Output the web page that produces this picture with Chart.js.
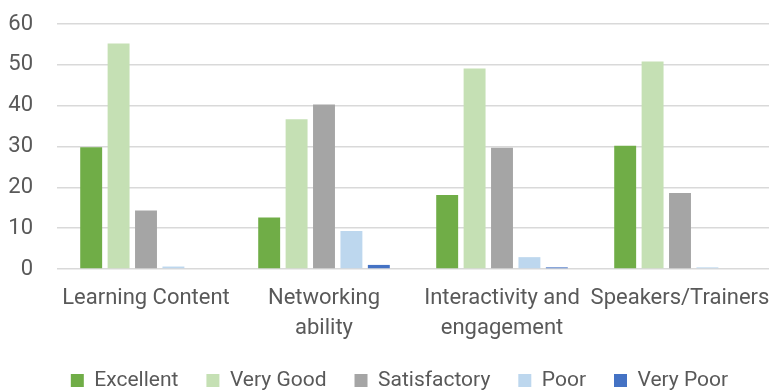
<!DOCTYPE html>
<html>
<head>
<meta charset="utf-8">
<script src="https://cdn.jsdelivr.net/npm/chart.js@4.4.1/dist/chart.umd.min.js"></script>
<style>
  html, body { margin: 0; padding: 0; background: #fff; }
  #wrap { width: 769px; height: 390px; }
</style>
</head>
<body>
<div id="wrap"><canvas id="ratingChart"></canvas></div>
<script>
// Categorías (etiquetas con salto de línea como en el gráfico original)
const categories = ['Learning Content', ['Networking', 'ability'], ['Interactivity and', 'engagement'], 'Speakers/Trainers'];

// Porcentaje de respuestas por valoración
const excellent    = [29.8, 12.6, 18.1, 30.2];
const veryGood     = [55.2, 36.7, 49.1, 50.8];
const satisfactory = [14.3, 40.3, 29.7, 18.6];
const poor         = [0.6, 9.3, 2.9, 0.4];
const veryPoor     = [0, 1.0, 0.4, 0];

const yTicks = [0, 10, 20, 30, 40, 50, 60];

const textColor = '#595959';
const gridColor = '#d9d9d9';

// Ajuste fino de la posición de la leyenda (Chart.js la centra en todo el ancho)
const legendShift = {
    id: 'legendShift',
    afterLayout(chart) {
        const lg = chart.legend;
        if (!lg) return;
        lg.left += 15; lg.right += 15;
        lg.top -= 7; lg.bottom -= 7;
    }
};

const ctx = document.getElementById('ratingChart').getContext('2d');
new Chart(ctx, {
    type: 'bar',
    data: {
        labels: categories,
        datasets: [
            { label: 'Excellent',    data: excellent,    backgroundColor: '#70ad47' },
            { label: 'Very Good',    data: veryGood,     backgroundColor: '#c5e0b4' },
            { label: 'Satisfactory', data: satisfactory, backgroundColor: '#a5a5a5' },
            { label: 'Poor',         data: poor,         backgroundColor: '#bdd7ee' },
            { label: 'Very Poor',    data: veryPoor,     backgroundColor: '#4472c4' }
        ]
    },
    options: {
        responsive: true,
        maintainAspectRatio: false,
        animation: false,
        datasets: {
            bar: { barPercentage: 0.8, categoryPercentage: 0.77 }
        },
        layout: { padding: { top: 24, right: 0, bottom: -18, left: 0 } },
        font: { family: 'Roboto', size: 22 },
        scales: {
            x: {
                grid: { display: false, drawTicks: false },
                border: { display: false },
                ticks: {
                    color: textColor,
                    font: { family: 'Roboto', size: 22, lineHeight: 1.35 },
                    padding: 15,
                    maxRotation: 0,
                    autoSkip: false
                },
                afterFit(scale) {
                    scale.height = 80;
                    scale.paddingLeft = 0;
                    scale.paddingRight = 0;
                }
            },
            y: {
                min: yTicks[0],
                max: yTicks[yTicks.length - 1],
                grid: { color: gridColor, lineWidth: 1.5, drawTicks: false },
                border: { display: false },
                afterBuildTicks(scale) { scale.ticks = yTicks.map(v => ({ value: v })); },
                ticks: {
                    color: textColor,
                    font: { family: 'Roboto', size: 22 },
                    padding: 24
                },
                afterFit(scale) {
                    scale.width = 57;
                    scale.paddingTop = 0;
                    scale.paddingBottom = 0;
                }
            }
        },
        plugins: {
            legend: {
                position: 'bottom',
                labels: {
                    color: textColor,
                    font: { family: 'Roboto', size: 21 },
                    boxWidth: 13,
                    boxHeight: 13,
                    padding: 28
                }
            },
            tooltip: { enabled: false }
        }
    },
    plugins: [legendShift]
});
</script>
</body>
</html>
